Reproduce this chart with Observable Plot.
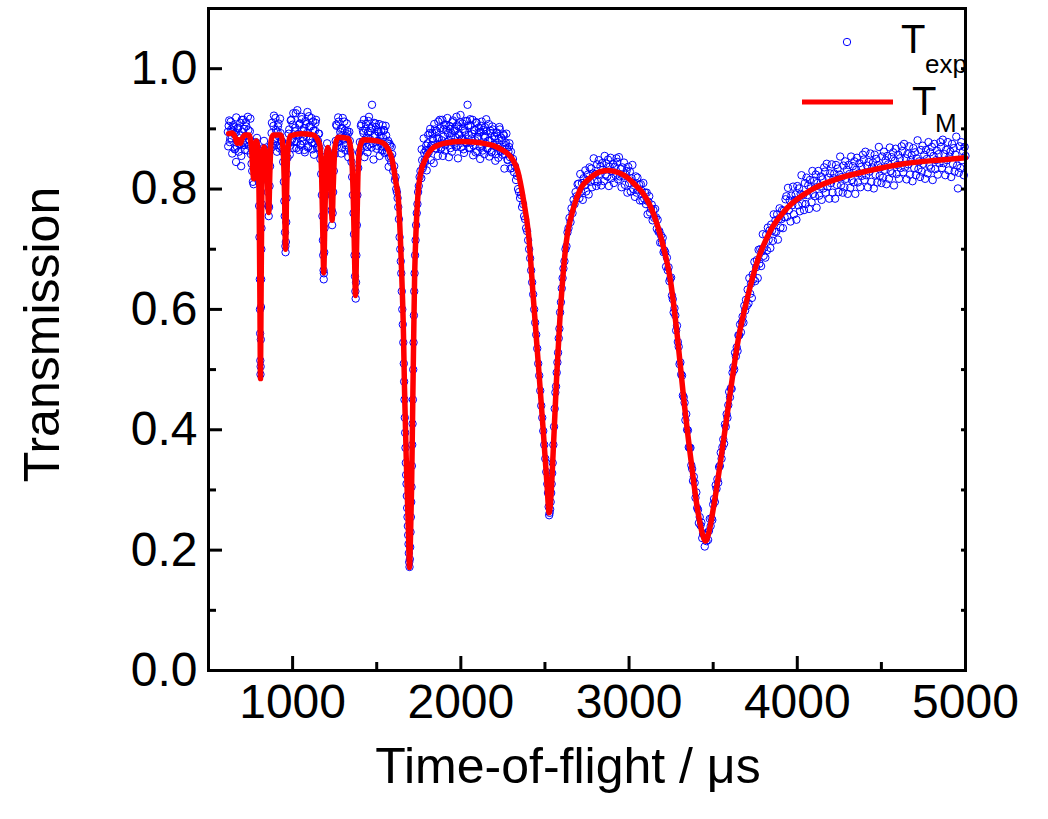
<!DOCTYPE html>
<html>
<head>
<meta charset="utf-8">
<script src="https://cdn.jsdelivr.net/npm/d3@7"></script>
<script src="https://cdn.jsdelivr.net/npm/@observablehq/plot@0.6"></script>
<style>
  html, body { margin: 0; padding: 0; background: #fff; }
  #chart { width: 1048px; height: 819px; }
</style>
</head>
<body>
<div id="chart"></div>
<script>
// Tick labels
const xTicks = [1000, 2000, 3000, 4000, 5000];
const xMinorTicks = [1500, 2500, 3500, 4500];
const yTicks = [0.0, 0.2, 0.4, 0.6, 0.8, 1.0];
const yMinorTicks = [0.1, 0.3, 0.5, 0.7, 0.9];
const xLabel = "Time-of-flight / μs";
const yLabel = "Transmission";
const legendExp = ["T", "exp"];
const legendModel = ["T", "M"];

// Model transmission T_M : [time-of-flight µs, transmission]
const fitted = [
[620,0.892],[640,0.893],[660,0.885],[670,0.876],[680,0.882],[690,0.876],[700,0.884],[720,0.890],[740,0.890],
[755,0.870],[765,0.825],[769,0.817],[775,0.850],[785,0.880],[795,0.860],[802,0.750],[806,0.600],[809,0.485],
[812,0.600],[816,0.760],[822,0.850],[830,0.870],[840,0.860],[850,0.820],[858,0.761],[865,0.830],[872,0.880],
[885,0.890],[930,0.890],[945,0.860],[952,0.790],[958,0.700],[964,0.790],[971,0.860],[985,0.888],[1050,0.892],
[1120,0.890],[1160,0.875],[1172,0.830],[1180,0.720],[1185,0.661],[1191,0.740],[1200,0.850],[1210,0.869],
[1222,0.840],[1230,0.780],[1235,0.748],[1241,0.800],[1252,0.870],[1270,0.886],[1330,0.884],[1350,0.855],
[1362,0.770],[1368,0.690],[1374,0.623],[1380,0.700],[1388,0.820],[1400,0.870],[1420,0.882],[1500,0.880],
[1540,0.876],[1570,0.865],[1590,0.850],[1600,0.836],[1615,0.810],[1629,0.781],[1647,0.670],[1659,0.560],
[1665,0.470],[1677,0.337],[1689,0.228],[1695,0.171],[1701,0.225],[1707,0.300],[1713,0.420],[1719,0.540],
[1725,0.650],[1733,0.726],[1745,0.790],[1760,0.825],[1790,0.850],[1838,0.869],[1921,0.877],[2000,0.879],
[2075,0.878],[2150,0.875],[2194,0.872],[2240,0.866],[2277,0.859],[2310,0.848],[2337,0.831],[2373,0.781],
[2402,0.726],[2432,0.615],[2462,0.504],[2491,0.394],[2512,0.310],[2525,0.262],[2538,0.300],[2550,0.370],
[2563,0.449],[2570,0.490],[2580,0.540],[2590,0.590],[2600,0.630],[2610,0.665],[2620,0.695],[2634,0.726],
[2652,0.750],[2670,0.769],[2711,0.800],[2771,0.819],[2830,0.829],[2878,0.831],[2940,0.827],[2991,0.819],
[3040,0.806],[3080,0.794],[3145,0.759],[3205,0.703],[3246,0.648],[3288,0.553],[3324,0.454],[3366,0.354],
[3408,0.266],[3435,0.228],[3455,0.215],[3475,0.230],[3502,0.271],[3556,0.371],[3603,0.465],[3651,0.553],
[3704,0.620],[3764,0.681],[3841,0.731],[3942,0.769],[4079,0.798],[4239,0.817],[4435,0.831],[4632,0.842],
[4834,0.848],[5000,0.852]
];

// Measured transmission T_exp : [time-of-flight µs, transmission], 615–2694 µs
const measured = [
[615,0.895],[620,0.905],[626,0.878],[632,0.912],[638,0.884],[644,0.897],[650,0.903],[656,0.866],[662,0.894],
[668,0.871],[674,0.901],[680,0.862],[686,0.889],[692,0.875],[698,0.915],[704,0.877],[710,0.900],[716,0.865],
[722,0.911],[728,0.878],[734,0.920],[740,0.872],[746,0.896],[752,0.858],[756,0.842],[760,0.830],[764,0.812],
[768,0.808],[772,0.835],[776,0.858],[780,0.878],[784,0.870],[788,0.885],[792,0.866],[796,0.850],[799,0.812],
[801,0.772],[803,0.720],[805,0.650],[806,0.600],[807,0.560],[808,0.515],[809,0.492],[810,0.505],[811,0.550],
[812,0.604],[813,0.650],[814,0.700],[815,0.735],[817,0.775],[819,0.815],[822,0.846],[826,0.868],[830,0.880],
[835,0.862],[840,0.857],[845,0.835],[850,0.818],[853,0.795],[856,0.772],[858,0.755],[860,0.770],[863,0.805],
[866,0.838],[870,0.872],[875,0.893],[880,0.870],[886,0.905],[892,0.880],[898,0.918],[904,0.873],[910,0.895],
[916,0.909],[922,0.868],[928,0.893],[934,0.880],[940,0.862],[944,0.845],[948,0.812],[951,0.780],[953,0.755],
[955,0.728],[957,0.705],[958,0.695],[960,0.712],[962,0.745],[964,0.785],[967,0.825],[970,0.852],[974,0.875],
[980,0.899],[986,0.872],[992,0.915],[998,0.884],[1004,0.926],[1010,0.878],[1016,0.902],[1022,0.868],[1028,0.931],
[1034,0.889],[1040,0.907],[1046,0.874],[1052,0.920],[1058,0.880],[1064,0.896],[1070,0.865],[1076,0.913],
[1082,0.887],[1088,0.928],[1094,0.871],[1100,0.904],[1106,0.883],[1112,0.918],[1118,0.866],[1124,0.897],
[1130,0.876],[1136,0.910],[1142,0.884],[1148,0.870],[1154,0.892],[1160,0.868],[1165,0.850],[1170,0.825],
[1174,0.790],[1177,0.755],[1180,0.715],[1182,0.690],[1184,0.665],[1185,0.650],[1186,0.660],[1188,0.695],
[1190,0.735],[1193,0.790],[1196,0.825],[1200,0.855],[1205,0.876],[1210,0.862],[1215,0.850],[1220,0.838],
[1225,0.815],[1229,0.790],[1232,0.765],[1235,0.740],[1238,0.760],[1241,0.795],[1245,0.830],[1250,0.858],
[1256,0.880],[1262,0.905],[1268,0.878],[1274,0.912],[1280,0.886],[1286,0.900],[1292,0.868],[1298,0.918],
[1304,0.882],[1310,0.897],[1316,0.873],[1322,0.909],[1328,0.891],[1334,0.868],[1340,0.880],[1345,0.862],
[1350,0.845],[1354,0.820],[1358,0.790],[1362,0.760],[1365,0.725],[1368,0.690],[1371,0.655],[1373,0.630],
[1375,0.618],[1377,0.645],[1379,0.690],[1382,0.740],[1385,0.790],[1390,0.835],[1395,0.860],[1400,0.878],
[1406,0.905],[1412,0.872],[1418,0.897],[1424,0.915],[1430,0.880],[1436,0.908],[1442,0.870],[1448,0.894],
[1454,0.920],[1460,0.883],[1466,0.901],[1472,0.940],[1478,0.876],[1484,0.910],[1490,0.889],[1496,0.903],
[1502,0.872],[1508,0.895],[1514,0.908],[1520,0.879],[1526,0.897],[1532,0.864],[1538,0.885],[1544,0.898],
[1550,0.870],[1556,0.889],[1562,0.861],[1568,0.880],[1574,0.852],[1580,0.872],[1586,0.845],[1592,0.858],
[1598,0.830],[1604,0.838],[1608,0.815],[1612,0.820],[1616,0.800],[1620,0.795],[1624,0.785],[1628,0.770],
[1632,0.750],[1636,0.720],[1640,0.700],[1643,0.680],[1646,0.660],[1649,0.630],[1652,0.600],[1655,0.575],
[1658,0.545],[1661,0.510],[1663,0.480],[1665,0.450],[1667,0.420],[1669,0.395],[1671,0.370],[1673,0.345],
[1675,0.325],[1677,0.310],[1679,0.290],[1681,0.270],[1683,0.255],[1685,0.240],[1687,0.225],[1689,0.210],
[1691,0.195],[1693,0.180],[1695,0.172],[1697,0.185],[1699,0.205],[1701,0.230],[1703,0.255],[1705,0.280],
[1707,0.305],[1709,0.340],[1711,0.375],[1713,0.410],[1715,0.450],[1717,0.500],[1719,0.545],[1721,0.590],
[1723,0.630],[1725,0.660],[1728,0.690],[1731,0.715],[1734,0.740],[1738,0.760],[1742,0.775],[1746,0.795],
[1750,0.805],[1755,0.820],[1760,0.830],[1765,0.818],[1770,0.848],[1776,0.838],[1782,0.860],[1788,0.845],
[1794,0.872],[1800,0.858],[1806,0.890],[1812,0.866],[1818,0.900],[1824,0.872],[1830,0.893],[1836,0.880],
[1842,0.908],[1848,0.868],[1854,0.897],[1860,0.884],[1866,0.912],[1872,0.875],[1878,0.901],[1884,0.869],
[1890,0.915],[1896,0.887],[1902,0.906],[1908,0.873],[1914,0.898],[1920,0.918],[1926,0.880],[1932,0.905],
[1938,0.868],[1944,0.893],[1950,0.911],[1956,0.878],[1962,0.900],[1968,0.886],[1974,0.920],[1980,0.872],
[1986,0.904],[1992,0.889],[1998,0.923],[2004,0.882],[2010,0.909],[2016,0.866],[2022,0.897],[2028,0.913],
[2034,0.876],[2040,0.940],[2046,0.890],[2052,0.868],[2058,0.906],[2064,0.884],[2070,0.915],[2076,0.872],
[2082,0.898],[2088,0.861],[2094,0.910],[2100,0.887],[2106,0.902],[2112,0.870],[2118,0.895],[2124,0.912],
[2130,0.864],[2136,0.889],[2142,0.903],[2148,0.876],[2154,0.896],[2160,0.868],[2166,0.908],[2172,0.880],
[2178,0.893],[2184,0.862],[2190,0.899],[2196,0.874],[2202,0.888],[2208,0.858],[2214,0.894],[2220,0.870],
[2226,0.884],[2232,0.899],[2238,0.862],[2244,0.881],[2250,0.866],[2256,0.889],[2262,0.858],[2268,0.877],
[2274,0.868],[2280,0.848],[2286,0.870],[2292,0.853],[2298,0.862],[2304,0.835],[2310,0.850],[2316,0.828],
[2322,0.838],[2328,0.815],[2334,0.822],[2340,0.800],[2346,0.795],[2352,0.785],[2358,0.790],[2364,0.770],
[2370,0.775],[2376,0.755],[2382,0.750],[2388,0.735],[2394,0.730],[2400,0.715],[2406,0.700],[2412,0.685],
[2418,0.665],[2424,0.645],[2430,0.625],[2436,0.600],[2442,0.578],[2448,0.558],[2454,0.535],[2460,0.510],
[2466,0.490],[2472,0.465],[2478,0.440],[2484,0.420],[2490,0.398],[2496,0.375],[2502,0.352],[2508,0.330],
[2514,0.310],[2518,0.295],[2522,0.272],[2525,0.258],[2528,0.262],[2531,0.268],[2534,0.280],[2537,0.295],
[2540,0.310],[2543,0.328],[2546,0.345],[2550,0.375],[2554,0.405],[2558,0.435],[2562,0.462],[2566,0.472],
[2570,0.495],[2574,0.512],[2578,0.528],[2582,0.552],[2586,0.568],[2590,0.595],[2595,0.612],[2600,0.635],
[2605,0.652],[2610,0.668],[2616,0.680],[2622,0.700],[2628,0.705],[2634,0.728],[2640,0.735],[2646,0.752],
[2652,0.745],[2658,0.768],[2664,0.760],[2670,0.782],[2676,0.775],[2682,0.795],[2688,0.788],[2694,0.808]
];

// Measured T_exp, additional points on the flat stretches between dips
const measuredFill = [
[617,0.871],[623,0.914],[629,0.884],[635,0.899],[641,0.859],[647,0.906],[653,0.891],[659,0.867],[664,0.845],
[665,0.919],[671,0.880],[677,0.902],[683,0.875],[689,0.910],[694,0.838],[695,0.855],[701,0.895],[707,0.915],
[713,0.873],[719,0.888],[725,0.904],[731,0.864],[737,0.898],[743,0.882],[749,0.917],
[877,0.910],[883,0.875],[889,0.922],[895,0.883],[901,0.898],[907,0.862],[913,0.904],[919,0.887],[925,0.917],
[931,0.870],[937,0.879],
[977,0.892],[983,0.857],[989,0.914],[995,0.881],[1001,0.907],[1007,0.868],[1013,0.896],[1019,0.926],[1025,0.878],
[1031,0.891],[1037,0.865],[1043,0.909],[1049,0.873],[1055,0.916],[1061,0.886],[1067,0.901],[1073,0.861],
[1079,0.908],[1085,0.893],[1091,0.869],[1097,0.921],[1103,0.882],[1109,0.904],[1115,0.877],[1121,0.912],
[1127,0.857],[1133,0.897],[1139,0.915],[1145,0.868],[1151,0.880],[1157,0.892],
[1259,0.907],[1265,0.872],[1271,0.919],[1277,0.880],[1283,0.895],[1289,0.859],[1295,0.901],[1301,0.884],
[1307,0.912],[1313,0.865],[1319,0.888],[1325,0.896],[1331,0.853],[1337,0.895],
[1403,0.865],[1409,0.908],[1415,0.878],[1421,0.893],[1427,0.853],[1433,0.900],[1439,0.885],[1445,0.861],
[1451,0.913],[1457,0.874],[1463,0.896],[1469,0.869],[1475,0.904],[1481,0.849],[1487,0.889],[1493,0.909],
[1499,0.867],[1505,0.880],[1511,0.895],[1517,0.855],[1523,0.888],[1529,0.871],[1535,0.906],[1541,0.897],
[1547,0.860],[1553,0.905],[1559,0.864],[1565,0.876],[1571,0.837],[1577,0.875],[1583,0.854],[1589,0.870],
[1767,0.866],[1773,0.834],[1779,0.884],[1785,0.847],[1791,0.864],[1797,0.831],[1803,0.876],[1809,0.861],
[1815,0.893],[1821,0.848],[1827,0.873],[1833,0.884],[1839,0.843],[1845,0.899],[1851,0.867],[1857,0.894],
[1863,0.855],[1869,0.884],[1875,0.915],[1881,0.867],[1887,0.881],[1893,0.855],[1899,0.900],[1905,0.864],
[1911,0.907],[1917,0.878],[1923,0.893],[1929,0.853],[1935,0.900],[1941,0.886],[1947,0.862],[1953,0.914],
[1959,0.875],[1965,0.897],[1971,0.870],[1977,0.906],[1983,0.851],[1989,0.891],[1995,0.911],[2001,0.869],
[2007,0.884],[2013,0.900],[2019,0.860],[2025,0.894],[2031,0.878],[2037,0.913],[2043,0.905],[2049,0.869],
[2055,0.916],[2061,0.877],[2067,0.892],[2073,0.856],[2079,0.898],[2085,0.881],[2091,0.911],[2097,0.863],
[2103,0.886],[2109,0.894],[2115,0.850],[2121,0.905],[2127,0.872],[2133,0.898],[2139,0.858],[2145,0.886],
[2151,0.916],[2157,0.867],[2163,0.880],[2169,0.854],[2175,0.897],[2181,0.861],[2187,0.904],[2193,0.873],
[2199,0.887],[2205,0.847],[2211,0.893],[2217,0.877],[2223,0.852],[2229,0.903],[2235,0.864],[2241,0.885],
[2247,0.857],[2253,0.891],[2259,0.834],[2265,0.873],[2271,0.892],[2277,0.849],[2283,0.862],[2289,0.876],
[2295,0.834]
];

// Measured T_exp, 2700–5000 µs
const measuredTail = [
[2700,0.809],[2705,0.785],[2710,0.825],[2715,0.796],[2720,0.810],[2725,0.782],[2730,0.818],[2735,0.806],
[2740,0.831],[2745,0.796],[2750,0.815],[2755,0.824],[2760,0.791],[2765,0.836],[2770,0.812],[2775,0.834],
[2780,0.803],[2785,0.826],[2790,0.851],[2795,0.813],[2800,0.825],[2805,0.805],[2810,0.841],[2815,0.812],
[2820,0.848],[2825,0.825],[2830,0.838],[2835,0.806],[2840,0.843],[2845,0.832],[2850,0.813],[2855,0.855],
[2860,0.824],[2865,0.842],[2870,0.821],[2875,0.849],[2880,0.805],[2885,0.837],[2890,0.852],[2895,0.818],
[2900,0.830],[2905,0.842],[2910,0.810],[2915,0.837],[2920,0.823],[2925,0.851],[2930,0.845],[2935,0.816],
[2940,0.853],[2945,0.821],[2950,0.833],[2955,0.803],[2960,0.836],[2965,0.821],[2970,0.844],[2975,0.807],
[2980,0.824],[2985,0.830],[2990,0.794],[2995,0.837],[3000,0.810],[3005,0.829],[3010,0.796],[3015,0.818],
[3020,0.840],[3025,0.800],[3030,0.810],[3035,0.787],[3040,0.821],[3045,0.794],[3050,0.819],[3055,0.799],
[3060,0.807],[3065,0.781],[3070,0.808],[3075,0.797],[3080,0.781],[3085,0.810],[3090,0.784],[3095,0.794],
[3100,0.775],[3105,0.794],[3110,0.758],[3115,0.779],[3120,0.788],[3125,0.761],[3130,0.767],[3135,0.774],
[3140,0.748],[3145,0.765],[3150,0.752],[3155,0.767],[3160,0.753],[3165,0.734],[3170,0.749],[3175,0.729],
[3180,0.730],[3185,0.711],[3190,0.723],[3195,0.711],[3200,0.719],[3205,0.695],[3210,0.698],[3215,0.695],
[3220,0.671],[3225,0.686],[3230,0.665],[3235,0.670],[3240,0.647],[3245,0.651],[3250,0.653],[3255,0.623],
[3260,0.617],[3265,0.595],[3270,0.602],[3275,0.590],[3280,0.565],[3285,0.573],[3290,0.546],[3295,0.538],
[3300,0.509],[3305,0.512],[3310,0.492],[3315,0.490],[3320,0.457],[3325,0.454],[3330,0.445],[3335,0.416],
[3340,0.426],[3345,0.400],[3350,0.399],[3355,0.371],[3360,0.370],[3365,0.370],[3370,0.341],[3375,0.335],
[3380,0.315],[3385,0.322],[3390,0.312],[3395,0.287],[3400,0.296],[3405,0.270],[3410,0.267],[3415,0.245],
[3420,0.255],[3425,0.241],[3430,0.246],[3435,0.220],[3440,0.227],[3445,0.227],[3450,0.206],[3455,0.225],
[3460,0.215],[3465,0.229],[3470,0.217],[3475,0.232],[3480,0.252],[3485,0.240],[3490,0.253],[3495,0.250],
[3500,0.276],[3505,0.285],[3510,0.280],[3515,0.308],[3520,0.302],[3525,0.318],[3530,0.312],[3535,0.338],
[3540,0.340],[3545,0.362],[3550,0.352],[3555,0.371],[3560,0.384],[3565,0.377],[3570,0.409],[3575,0.405],
[3580,0.426],[3585,0.420],[3590,0.441],[3595,0.463],[3600,0.454],[3605,0.469],[3610,0.468],[3615,0.495],
[3620,0.504],[3625,0.500],[3630,0.528],[3635,0.522],[3640,0.537],[3645,0.531],[3650,0.557],[3655,0.557],
[3660,0.575],[3665,0.562],[3670,0.579],[3675,0.588],[3680,0.578],[3685,0.606],[3690,0.598],[3695,0.616],
[3700,0.606],[3705,0.633],[3710,0.610],[3715,0.652],[3720,0.626],[3725,0.643],[3730,0.619],[3735,0.658],
[3740,0.650],[3745,0.679],[3750,0.647],[3755,0.670],[3760,0.682],[3765,0.652],[3770,0.699],[3775,0.676],
[3780,0.700],[3785,0.672],[3790,0.698],[3795,0.725],[3800,0.689],[3805,0.703],[3810,0.686],[3815,0.724],
[3820,0.698],[3825,0.736],[3830,0.716],[3835,0.731],[3840,0.702],[3845,0.741],[3850,0.731],[3855,0.714],
[3860,0.758],[3865,0.729],[3870,0.748],[3875,0.729],[3880,0.758],[3885,0.716],[3890,0.750],[3895,0.768],
[3900,0.736],[3905,0.750],[3910,0.765],[3915,0.735],[3920,0.764],[3925,0.753],[3930,0.783],[3935,0.788],
[3940,0.754],[3945,0.802],[3950,0.765],[3955,0.781],[3960,0.746],[3965,0.789],[3970,0.773],[3975,0.804],
[3980,0.758],[3985,0.782],[3990,0.791],[3995,0.749],[4000,0.805],[4005,0.773],[4010,0.801],[4015,0.763],
[4020,0.792],[4025,0.823],[4030,0.776],[4035,0.790],[4040,0.765],[4045,0.810],[4050,0.775],[4055,0.819],
[4060,0.790],[4065,0.806],[4070,0.767],[4075,0.815],[4080,0.801],[4085,0.778],[4090,0.830],[4095,0.792],
[4100,0.814],[4105,0.788],[4110,0.824],[4115,0.769],[4120,0.810],[4125,0.830],[4130,0.789],[4135,0.804],
[4140,0.821],[4145,0.782],[4150,0.816],[4155,0.801],[4160,0.836],[4165,0.829],[4170,0.794],[4175,0.842],
[4180,0.804],[4185,0.819],[4190,0.784],[4195,0.826],[4200,0.810],[4205,0.841],[4210,0.794],[4215,0.818],
[4220,0.826],[4225,0.784],[4230,0.840],[4235,0.807],[4240,0.834],[4245,0.795],[4250,0.824],[4255,0.854],
[4260,0.806],[4265,0.820],[4270,0.794],[4275,0.839],[4280,0.803],[4285,0.846],[4290,0.817],[4295,0.832],
[4300,0.792],[4305,0.840],[4310,0.825],[4315,0.802],[4320,0.854],[4325,0.815],[4330,0.838],[4335,0.811],
[4340,0.846],[4345,0.792],[4350,0.832],[4355,0.852],[4360,0.811],[4365,0.826],[4370,0.843],[4375,0.803],
[4380,0.837],[4385,0.822],[4390,0.857],[4395,0.849],[4400,0.815],[4405,0.862],[4410,0.823],[4415,0.839],
[4420,0.803],[4425,0.845],[4430,0.829],[4435,0.859],[4440,0.812],[4445,0.836],[4450,0.844],[4455,0.801],
[4460,0.857],[4465,0.824],[4470,0.850],[4475,0.811],[4480,0.840],[4485,0.870],[4490,0.822],[4495,0.836],
[4500,0.810],[4505,0.854],[4510,0.819],[4515,0.862],[4520,0.832],[4525,0.848],[4530,0.808],[4535,0.855],
[4540,0.841],[4545,0.817],[4550,0.869],[4555,0.830],[4560,0.853],[4565,0.826],[4570,0.861],[4575,0.806],
[4580,0.847],[4585,0.867],[4590,0.825],[4595,0.840],[4600,0.857],[4605,0.817],[4610,0.851],[4615,0.835],
[4620,0.871],[4625,0.863],[4630,0.828],[4635,0.875],[4640,0.836],[4645,0.851],[4650,0.816],[4655,0.858],
[4660,0.841],[4665,0.871],[4670,0.824],[4675,0.848],[4680,0.856],[4685,0.813],[4690,0.868],[4695,0.835],
[4700,0.861],[4705,0.823],[4710,0.851],[4715,0.881],[4720,0.833],[4725,0.846],[4730,0.820],[4735,0.865],
[4740,0.829],[4745,0.872],[4750,0.842],[4755,0.857],[4760,0.817],[4765,0.865],[4770,0.850],[4775,0.826],
[4780,0.878],[4785,0.839],[4790,0.861],[4795,0.834],[4800,0.870],[4805,0.815],[4810,0.855],[4815,0.875],
[4820,0.833],[4825,0.848],[4830,0.864],[4835,0.824],[4840,0.858],[4845,0.843],[4850,0.878],[4855,0.870],
[4860,0.835],[4865,0.882],[4870,0.843],[4875,0.858],[4880,0.823],[4885,0.865],[4890,0.848],[4895,0.878],
[4900,0.831],[4905,0.854],[4910,0.862],[4915,0.820],[4920,0.875],[4925,0.842],[4930,0.868],[4935,0.829],
[4940,0.857],[4945,0.887],[4950,0.839],[4955,0.801],[4960,0.827],[4965,0.871],[4970,0.835],[4975,0.878],
[4980,0.848],[4985,0.863],[4990,0.823],[4995,0.870],[5000,0.855]
];

const FONT = "'Liberation Sans', Arial, Helvetica, sans-serif";
const blue = "#0000ff";
const red = "#ff0000";
const allMeasured = [...measured, ...measuredFill, ...measuredTail];

const svg = Plot.plot({
  width: 1048,
  height: 819,
  marginLeft: 208,
  marginRight: 83,
  marginTop: 8,
  marginBottom: 149,
  style: {fontFamily: FONT, background: "#fff", color: "#000", overflow: "visible"},
  x: {domain: [500, 5000]},
  y: {domain: [0, 1.1]},
  marks: [
    Plot.dot(allMeasured, {x: d => d[0], y: d => d[1], r: 3.7, stroke: blue, strokeWidth: 1, fill: "none"}),
    Plot.line(fitted, {x: d => d[0], y: d => d[1], stroke: red, strokeWidth: 5.5, curve: "monotone-x"}),
    Plot.axisX(xTicks, {tickSize: -14, tickPadding: 27, strokeWidth: 3, fontSize: 48, label: null, tickFormat: d => String(d)}),
    Plot.axisX(xMinorTicks, {tickSize: -8, tickPadding: 0, strokeWidth: 3, label: null, tickFormat: () => ""}),
    Plot.axisY(yTicks, {tickSize: -14, tickPadding: 25, strokeWidth: 3, fontSize: 48, label: null, tickFormat: d => d.toFixed(1)}),
    Plot.axisY(yMinorTicks, {tickSize: -8, tickPadding: 0, strokeWidth: 3, label: null, tickFormat: () => ""}),
    Plot.axisY([...yTicks, ...yMinorTicks], {anchor: "right", tickSize: -5, tickPadding: 0, strokeWidth: 3, label: null, tickFormat: () => ""}),
    Plot.frame({stroke: "#000", strokeWidth: 3}),
    Plot.text([xLabel], {frameAnchor: "bottom", textAnchor: "middle", dx: -19, dy: 112, fontSize: 50, fill: "#000"}),
    Plot.text([yLabel], {frameAnchor: "left", textAnchor: "middle", rotate: -90, dx: -166, dy: -5, fontSize: 50, fill: "#000"})
  ]
});

// Legend inside the plot, top right
const g = d3.select(svg).append("g").attr("font-family", FONT).attr("fill", "#000").attr("text-anchor", "start");
g.append("circle").attr("cx", 847).attr("cy", 42).attr("r", 3.7)
  .attr("fill", "none").attr("stroke", blue).attr("stroke-width", 1);
g.append("text").attr("x", 901).attr("y", 53).attr("font-size", 40).attr("text-anchor", "start").text(legendExp[0]);
g.append("text").attr("x", 925).attr("y", 73).attr("font-size", 26).attr("text-anchor", "start").text(legendExp[1]);
g.append("line").attr("x1", 802).attr("x2", 893).attr("y1", 102).attr("y2", 102)
  .attr("stroke", red).attr("stroke-width", 5);
g.append("text").attr("x", 912).attr("y", 115).attr("font-size", 40).attr("text-anchor", "start").text(legendModel[0]);
g.append("text").attr("x", 935).attr("y", 132).attr("font-size", 26).attr("text-anchor", "start").text(legendModel[1]);

document.getElementById("chart").appendChild(svg);
</script>
</body>
</html>
